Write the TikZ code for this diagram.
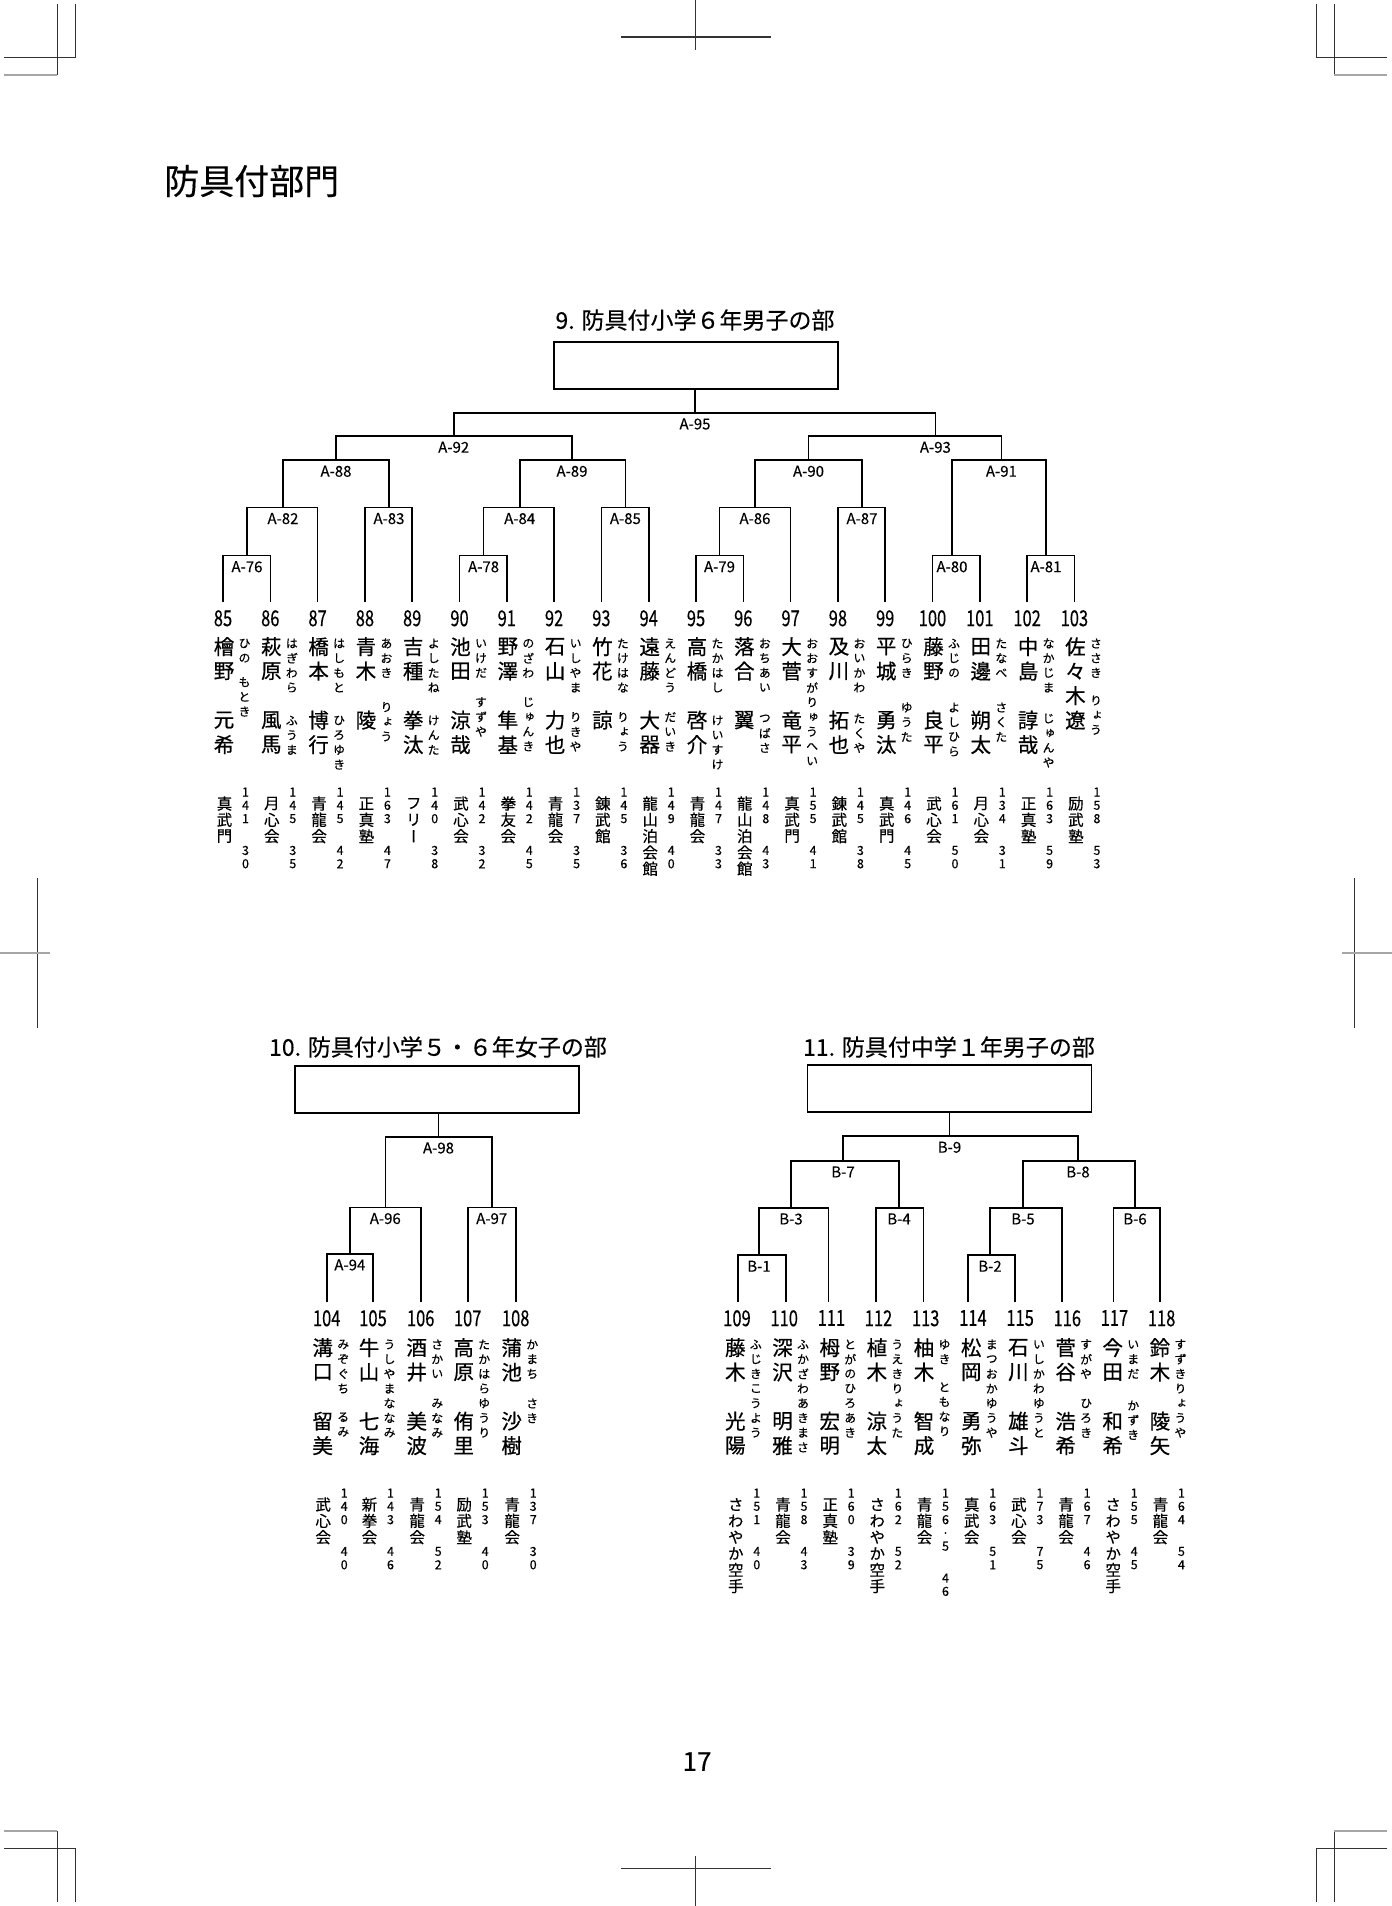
\documentclass[tikz,border=0pt]{standalone}
\usepackage{fontspec}
\setmainfont[FakeBold=0.3]{Noto Sans CJK JP}
\newfontfamily\vjp[RawFeature=+vert, FakeBold=0.6]{Noto Sans CJK JP}
\newfontfamily\vjpk[RawFeature=+vert, FakeBold=0.4]{Noto Sans CJK JP}
\usepackage{graphicx}
\usetikzlibrary{positioning}

% vertical stack of characters, one cell per character, | = gap
\makeatletter
\newlength\vcpitch
\newlength\vcgap
\setlength\vcgap{18.5pt}
\newcommand\vcol[2]{\setlength\vcpitch{#1}\edef\vc@list{#2}%
  \vbox{\offinterlineskip\expandafter\vc@loop\vc@list\relax}}
\def\vc@loop#1{\ifx\relax#1\else\vc@cell{#1}\expandafter\vc@loop\fi}
\def\vc@cell#1{\ifx|#1\vskip\vcgap\else\vbox to\vcpitch{\vss\hbox to0pt{\hss#1\hss}\vss}\fi}
\makeatother

\newcommand\narrow[1]{\scalebox{0.75}[1]{#1}}

% one player column: number, x, name, kana 1, offset, kana 2, dojo, height|weight
\newcommand\player[8]{%
  \node[sei]  (s#1) at (#2+\ndx, \ntop) {\vcol{24.5pt}{#3}};
  \node[kana] (k#1) at (#2+\ndx+20.5, \ntop+1.7) {\vcol{14.7pt}{#4}};
  \node[kana] (g#1) at (#2+\ndx+20.5, \ntop+#5) {\vcol{14.7pt}{#6}};
  \node[dojo] (d#1) at (#2+\ndx+0.5, \ntop+161) {\vcol{16.3pt}{#7}};
  \node[nums] (h#1) at (#2+\ndx+21.5, \ntop+151) {\vcol{13.3pt}{#8}};
}

\tikzset{
  bline/.style={line width=1.6pt},
  winbox/.style={draw, line width=1.8pt, minimum width=284pt, minimum height=47pt, inner sep=0pt},
  btitle/.style={font=\fontsize{23}{23}\selectfont, inner sep=0pt},
  mlabel/.style={font=\fontsize{15}{15}\selectfont, inner sep=1pt},
  leafno/.style={font=\fontsize{22}{22}\selectfont, inner sep=0pt, anchor=north},
  sei/.style={anchor=north, inner sep=0pt, font=\vjp\fontsize{20.5}{20.5}\selectfont},
  kana/.style={anchor=north, inner sep=0pt, font=\vjpk\fontsize{12}{12}\selectfont},
  dojo/.style={anchor=north, inner sep=0pt, font=\vjpk\fontsize{15.5}{15.5}\selectfont},
  nums/.style={anchor=north, inner sep=0pt, font=\vjpk\fontsize{12.5}{12.5}\selectfont},
  cropmark/.style={line width=0.8pt, black!80},
  cropgray/.style={line width=1.6pt, black!35}
}

\begin{document}
\begin{tikzpicture}[x=1pt, y=-1pt]
  \useasboundingbox (0,0) rectangle (1392,1906);

  % Crop marks
  \draw[cropmark] (75,4) -- (75,57.3) -- (4.4,57.3);
  \draw[cropmark] (57,4) -- (57,75);
  \draw[cropgray] (4.4,75) -- (57,75);
  \draw[cropmark] (1316.6,4) -- (1316.6,57.3) -- (1386.7,57.3);
  \draw[cropmark] (1334.4,4) -- (1334.4,75);
  \draw[cropgray] (1334.4,75) -- (1386.7,75);
  \draw[cropmark] (75,1901.7) -- (75,1848.3) -- (4.4,1848.3);
  \draw[cropmark] (57,1901.7) -- (57,1831);
  \draw[cropgray] (4.4,1831) -- (57,1831);
  \draw[cropmark] (1316.6,1901.7) -- (1316.6,1848.3) -- (1386.7,1848.3);
  \draw[cropmark] (1334.4,1901.7) -- (1334.4,1831);
  \draw[cropgray] (1334.4,1831) -- (1386.7,1831);
  \draw[cropmark] (695.3,0) -- (695.3,50);
  \draw[cropmark, line width=1.2pt] (621.4,37) -- (770.6,37);
  \draw[cropmark] (695.3,1856) -- (695.3,1905.7);
  \draw[cropmark, line width=1.2pt] (621.4,1868.3) -- (770.6,1868.3);
  \draw[cropmark] (37.3,878.3) -- (37.3,1028.3);
  \draw[cropgray] (0,952.7) -- (49.7,952.7);
  \draw[cropmark] (1354,878.3) -- (1354,1028.3);
  \draw[cropgray] (1342.3,952.7) -- (1392,952.7);

  % Page title and page number
  \node[anchor=west, inner sep=0pt, font=\fontsize{35}{35}\selectfont] (pagetitle) at (164,181) {防具付部門};
  \node[inner sep=0pt, font=\fontsize{26}{26}\selectfont] (pageno) at (697,1761.5) {17};

  % ---------- 9. bracket ----------
  \node[btitle] (t9) at (695,320) {9. 防具付小学６年男子の部};
  \node[winbox] (box9) at (696,365.5) {};

  \foreach \no [evaluate=\no as \x using 223+47.3*(\no-85)] in {85,...,103}{
    \coordinate (p\no) at (\x,602);
    \node[leafno] (n\no) at (\x,610) {\narrow{\no}};
  }

  \coordinate (A76) at (247,555.5);
  \coordinate (A78) at (483.6,555.5);
  \coordinate (A79) at (719.5,555.5);
  \coordinate (A80) at (952,555.5);
  \coordinate (A81) at (1046,555.5);
  \coordinate (A82) at (283,507.3);
  \coordinate (A83) at (389,507.3);
  \coordinate (A84) at (519.7,507.3);
  \coordinate (A85) at (625.4,507.3);
  \coordinate (A86) at (755,507.3);
  \coordinate (A87) at (862,507.3);
  \coordinate (A88) at (336,460);
  \coordinate (A89) at (572,460);
  \coordinate (A90) at (808.5,460);
  \coordinate (A91) at (1001.4,460);
  \coordinate (A92) at (453.7,436);
  \coordinate (A93) at (935.4,436);
  \coordinate (A95) at (695,412.7);

  \draw[bline] (p85) |- (A76) -| (p86);
  \draw[bline] (A76) |- (A82) -| (p87);
  \draw[bline] (p88) |- (A83) -| (p89);
  \draw[bline] (A82) |- (A88) -| (A83);
  \draw[bline] (p90) |- (A78) -| (p91);
  \draw[bline] (A78) |- (A84) -| (p92);
  \draw[bline] (p93) |- (A85) -| (p94);
  \draw[bline] (A84) |- (A89) -| (A85);
  \draw[bline] (A88) |- (A92) -| (A89);
  \draw[bline] (p95) |- (A79) -| (p96);
  \draw[bline] (A79) |- (A86) -| (p97);
  \draw[bline] (p98) |- (A87) -| (p99);
  \draw[bline] (A86) |- (A90) -| (A87);
  \draw[bline] (p100) |- (A80) -| (p101);
  \draw[bline] (p102) |- (A81) -| (p103);
  \draw[bline] (A80) |- (A91) -| (A81);
  \draw[bline] (A90) |- (A93) -| (A91);
  \draw[bline] (A92) |- (A95) -| (A93);
  \draw[bline] (A95) -- (A95 |- box9.south);

  \foreach \m in {76,78,79,80,81,82,83,84,85,86,87,88,89,90,91,92,93,95}
    \node[mlabel, below=4.5pt of A\m] (lA\m) {A-\m};

  \def\ntop{634.2}\def\ndx{1}
  \foreach \no/\x/\sei/\kana/\off/\kanb/\dojo/\hw in {
    85/223.0/檜野　元希/ひの/40.4/もとき/真武門/141|30,
    86/270.3/萩原　風馬/はぎわら/78.7/ふうま/月心会/145|35,
    87/317.6/橋本　博行/はしもと/78.7/ひろゆき/青龍会/145|42,
    88/364.9/青木　陵/あおき/65.4/りょう/正真塾/163|47,
    89/412.2/吉種　拳汰/よしたね/78.7/けんた/フリー/140|38,
    90/459.5/池田　涼哉/いけだ/60.4/すずや/武心会/142|32,
    91/506.8/野澤　隼基/のざわ/60.4/じゅんき/拳友会/142|45,
    92/554.1/石山　力也/いしやま/75.4/りきや/青龍会/137|35,
    93/601.4/竹花　諒/たけはな/75.4/りょう/錬武館/145|36,
    94/648.7/遠藤　大器/えんどう/75.4/だいき/龍山泊会館/149|40,
    95/696.0/高橋　啓介/たかはし/78.7/けいすけ/青龍会/147|33,
    96/743.3/落合　翼/おちあい/76.7/つばさ/龍山泊会館/148|43,
    97/790.6/大菅　竜平/おおすが/60.5/りゅうへい/真武門/155|41,
    98/837.9/及川　拓也/おいかわ/76.7/たくや/錬武館/145|38,
    99/885.2/平城　勇汰/ひらき/65.7/ゆうた/真武門/146|45,
    100/932.5/藤野　良平/ふじの/65.7/よしひら/武心会/161|50,
    101/979.8/田邊　朔太/たなべ/65.7/さくた/月心会/134|31,
    102/1027.1/中島　諄哉/なかじま/76.7/じゅんや/正真塾/163|59,
    103/1074.4/佐々木遼/ささき/58.7/りょう/励武塾/158|53}
    \player{\no}{\x}{\sei}{\kana}{\off}{\kanb}{\dojo}{\hw};

  % ---------- 10. bracket ----------
  \node[btitle] (t10) at (438,1047) {10. 防具付小学５・６年女子の部};
  \node[winbox] (box10) at (437,1089.2) {};

  \foreach \no/\x in {104/326.7,105/373.0,106/420.7,107/467.7,108/515.7}{
    \coordinate (p\no) at (\x,1301.7);
    \node[leafno] (n\no) at (\x,1310) {\narrow{\no}};
  }

  \coordinate (A94) at (349.85,1253.7);
  \coordinate (A96) at (385.3,1207.3);
  \coordinate (A97) at (491.7,1207.3);
  \coordinate (A98) at (438.5,1136.7);

  \draw[bline] (p104) |- (A94) -| (p105);
  \draw[bline] (A94) |- (A96) -| (p106);
  \draw[bline] (p107) |- (A97) -| (p108);
  \draw[bline] (A96) |- (A98) -| (A97);
  \draw[bline] (A98) -- (A98 |- box10.south);

  \foreach \m in {94,96,97,98}
    \node[mlabel, below=4.5pt of A\m] (lA\m) {A-\m};

  \def\ntop{1335.2}\def\ndx{-4}
  \foreach \no/\x/\sei/\kana/\off/\kanb/\dojo/\hw in {
    104/326.7/溝口　留美/みぞぐち/74.4/るみ/武心会/140|40,
    105/373.0/牛山　七海/うしやま/60.5/ななみ/新拳会/143|46,
    106/420.7/酒井　美波/さかい/60.7/みなみ/青龍会/154|52,
    107/467.7/高原　侑里/たかはら/60.5/ゆうり/励武塾/153|40,
    108/515.7/蒲池　沙樹/かまち/60.7/さき/青龍会/137|30}
    \player{\no}{\x}{\sei}{\kana}{\off}{\kanb}{\dojo}{\hw};

  % ---------- 11. bracket ----------
  \node[btitle] (t11) at (949,1047) {11. 防具付中学１年男子の部};
  \node[winbox] (box11) at (949.4,1088.4) {};

  \foreach \no/\lx/\x in {109/737.7/737.0, 110/785.7/784.2, 111/828.3/831.4,
      112/875.7/878.5, 113/923.3/925.7, 114/967.7/972.9, 115/1015/1020.1,
      116/1061.7/1067.3, 117/1113.3/1114.4, 118/1160/1161.6}{
    \coordinate (p\no) at (\lx,1301.7);
    \node[leafno] (n\no) at (\x,1310) {\narrow{\no}};
  }

  \coordinate (B1) at (759,1255);
  \coordinate (B2) at (990,1255);
  \coordinate (B3) at (791,1207.7);
  \coordinate (B4) at (899,1207.7);
  \coordinate (B5) at (1023,1207.7);
  \coordinate (B6) at (1135,1207.7);
  \coordinate (B7) at (843,1160.7);
  \coordinate (B8) at (1078,1160.7);
  \coordinate (B9) at (949.5,1136);

  \draw[bline] (p109) |- (B1) -| (p110);
  \draw[bline] (B1) |- (B3) -| (p111);
  \draw[bline] (p112) |- (B4) -| (p113);
  \draw[bline] (B3) |- (B7) -| (B4);
  \draw[bline] (p114) |- (B2) -| (p115);
  \draw[bline] (B2) |- (B5) -| (p116);
  \draw[bline] (p117) |- (B6) -| (p118);
  \draw[bline] (B5) |- (B8) -| (B6);
  \draw[bline] (B7) |- (B9) -| (B8);
  \draw[bline] (B9) -- (B9 |- box11.south);

  \foreach \m in {1,...,9}
    \node[mlabel, below=4.5pt of B\m] (lB\m) {B-\m};

  \def\ntop{1335.2}\def\ndx{-1.7}
  \foreach \no/\x/\sei/\kana/\off/\kanb/\dojo/\hw in {
    109/737.0/藤木　光陽/ふじき/45.8/こうよう/さわやか空手/151|40,
    110/784.2/深沢　明雅/ふかざわ/60.5/あきまさ/青龍会/158|43,
    111/831.4/栂野　宏明/とがの/45.8/ひろあき/正真塾/160|39,
    112/878.5/植木　涼太/うえき/45.8/りょうた/さわやか空手/162|52,
    113/925.7/柚木　智成/ゆき/44.4/ともなり/青龍会/156.5|46,
    114/972.9/松岡　勇弥/まつおか/60.5/ゆうや/真武会/163|51,
    115/1020.1/石川　雄斗/いしかわ/60.5/ゆうと/武心会/173|75,
    116/1067.3/菅谷　浩希/すがや/60.7/ひろき/青龍会/167|46,
    117/1114.4/今田　和希/いまだ/62.7/かずき/さわやか空手/155|45,
    118/1161.6/鈴木　陵矢/すずき/45.8/りょうや/青龍会/164|54}
    \player{\no}{\x}{\sei}{\kana}{\off}{\kanb}{\dojo}{\hw};
\end{tikzpicture}
\end{document}
